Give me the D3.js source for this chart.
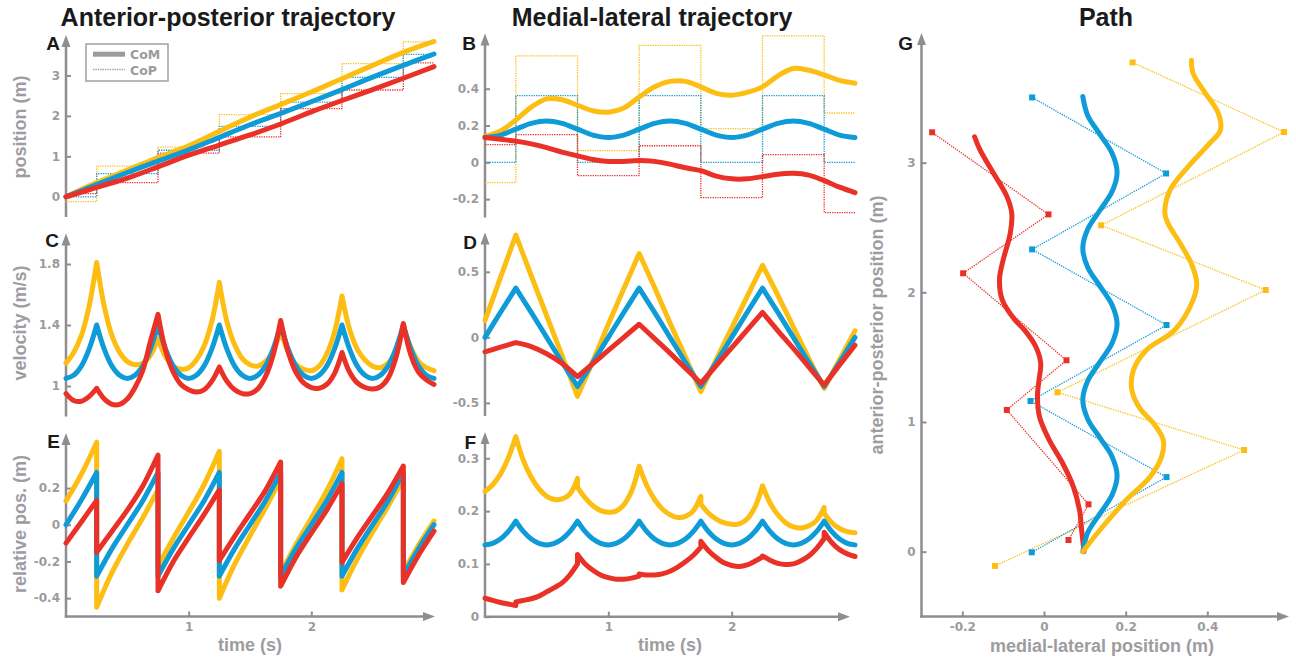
<!DOCTYPE html>
<html>
<head>
<meta charset="utf-8">
<script src="https://cdn.jsdelivr.net/npm/d3@7"></script>
<style>
  body { margin: 0; background: #fff; }
  svg text { font-family: 'Liberation Sans', Arial, sans-serif; }
  .axis .tick line { stroke: #8e8e90; stroke-width: 2; }
  .axis .tick text { font-family: 'DejaVu Sans', sans-serif; font-weight: bold; font-size: 12px; fill: #9b9b9d; }
  .title { font-weight: bold; font-size: 25px; fill: #1a1a1a; }
  .letter { font-weight: bold; font-size: 19px; fill: #1a1a1a; }
  .atitle { font-weight: bold; font-size: 18px; fill: #9d9d9f; }
  .legend text { font-family: 'DejaVu Sans', sans-serif; font-weight: bold; font-size: 12.5px; fill: #9b9b9d; }
</style>
</head>
<body>
<svg id="chart" width="1296" height="657"></svg>
<script>
// time grids and step events
var t4 = d3.range(0, 3.001, 0.25);
var t8 = d3.range(0, 3.001, 0.125);
var t16 = d3.range(0, 3.001, 0.0625);
var steps = [0.25, 0.75, 1.25, 1.75, 2.25, 2.75];
var footTimes = [0, 0.25, 0.75, 1.25, 1.75, 2.25, 2.75, 3];

var yellow = '#fdbe14', blue = '#0e9bd8', red = '#ea3128';
var gray = '#8e8e90';

// A: anterior-posterior position (t4)
var apYellow = [0, 0.35, 0.66, 0.97, 1.26, 1.62, 1.97, 2.28, 2.59, 2.92, 3.25, 3.57, 3.84];
var apBlue = [0, 0.30, 0.60, 0.88, 1.16, 1.47, 1.78, 2.06, 2.35, 2.65, 2.96, 3.25, 3.53];
var apRed = [0, 0.23, 0.46, 0.74, 1.03, 1.28, 1.53, 1.80, 2.10, 2.38, 2.65, 2.93, 3.22];
var apCopYellow = [-0.12, 0.76, 1.23, 2.03, 2.55, 3.29, 3.83];
var apCopBlue = [0.0, 0.57, 1.15, 1.74, 2.34, 2.95, 3.52];
var apCopRed = [0.08, 0.35, 1.08, 1.48, 2.18, 2.64, 3.31];

// B: medial-lateral position (t8)
var mlYellow = [0.14, 0.17, 0.23, 0.30, 0.345, 0.34, 0.31, 0.28, 0.272, 0.295, 0.355, 0.41, 0.44,
  0.44, 0.41, 0.375, 0.365, 0.38, 0.41, 0.47, 0.51, 0.50, 0.475, 0.445, 0.43];
var mlBlue = [0.135, 0.148, 0.18, 0.212, 0.225, 0.212, 0.18, 0.148, 0.135, 0.148, 0.18, 0.212, 0.225,
  0.212, 0.18, 0.148, 0.135, 0.148, 0.18, 0.212, 0.225, 0.212, 0.18, 0.148, 0.135];
var mlRed = [0.135, 0.125, 0.115, 0.10, 0.08, 0.055, 0.035, 0.015, 0.005, 0.005, 0.01, 0.005, -0.01,
  -0.03, -0.045, -0.075, -0.09, -0.09, -0.078, -0.065, -0.06, -0.07, -0.10, -0.135, -0.165];
var mlCopYellow = [-0.11, 0.578, 0.063, 0.636, 0.183, 0.687, 0.268];
var mlCopBlue = [0, 0.362, 0, 0.362, 0, 0.362, 0];
var mlCopRed = [0.096, 0.15, -0.072, 0.09, -0.192, 0.042, -0.274];

// C: anterior-posterior velocity (t16)
var velYellow = [1.15, 1.22, 1.33, 1.52, 1.81,
  1.52, 1.33, 1.22, 1.16, 1.14, 1.15, 1.20, 1.31,
  1.19, 1.13, 1.11, 1.12, 1.17, 1.26, 1.42, 1.68,
  1.42, 1.27, 1.18, 1.14, 1.13, 1.16, 1.23, 1.36,
  1.22, 1.14, 1.11, 1.10, 1.13, 1.21, 1.35, 1.59,
  1.37, 1.24, 1.17, 1.13, 1.12, 1.15, 1.23, 1.39,
  1.25, 1.16, 1.12, 1.10];
var velBlue = [1.05, 1.07, 1.13, 1.24, 1.40,
  1.24, 1.13, 1.07, 1.05, 1.07, 1.13, 1.24, 1.40,
  1.24, 1.13, 1.07, 1.05, 1.07, 1.13, 1.24, 1.40,
  1.24, 1.13, 1.07, 1.05, 1.07, 1.13, 1.24, 1.40,
  1.24, 1.13, 1.07, 1.05, 1.07, 1.13, 1.24, 1.40,
  1.24, 1.13, 1.07, 1.05, 1.07, 1.13, 1.24, 1.40,
  1.24, 1.13, 1.07, 1.05];
var velRed = [0.95, 0.905, 0.90, 0.93, 0.985,
  0.915, 0.88, 0.88, 0.915, 0.99, 1.10, 1.29, 1.47,
  1.23, 1.09, 1.01, 0.975, 0.96, 0.975, 1.03, 1.125,
  1.03, 0.975, 0.95, 0.95, 0.98, 1.06, 1.20, 1.43,
  1.22, 1.09, 1.02, 0.99, 0.985, 1.01, 1.08, 1.22,
  1.09, 1.02, 0.99, 0.98, 0.995, 1.05, 1.18, 1.41,
  1.20, 1.09, 1.04, 1.01];

// D: medial-lateral velocity (t8)
var vmlYellow = [0.13, 0.455, 0.78, 0.47, 0.165, -0.14, -0.45, -0.18, 0.10, 0.37, 0.64, 0.38, 0.11,
  -0.15, -0.415, -0.17, 0.07, 0.31, 0.55, 0.32, 0.08, -0.16, -0.39, -0.17, 0.05];
var vmlBlue = [0, 0.19, 0.375, 0.19, 0, -0.19, -0.375, -0.19, 0, 0.19, 0.375, 0.19, 0,
  -0.19, -0.375, -0.19, 0, 0.19, 0.375, 0.19, 0, -0.19, -0.375, -0.19, 0];
var vmlRed = [-0.11, -0.075, -0.04, -0.07, -0.125, -0.20, -0.30, -0.20, -0.10, 0.0, 0.10, -0.01, -0.12,
  -0.235, -0.35, -0.215, -0.08, 0.055, 0.19, 0.05, -0.085, -0.225, -0.364, -0.21, -0.06];

// E: relative AP position (t8), values after each step + values just before
var relYellow = [0.13, 0.275, -0.45, -0.26, -0.106, 0.037, -0.225, -0.073, 0.069, 0.218, -0.40, -0.215, -0.06,
  0.09, -0.265, -0.107, 0.037, 0.184, -0.355, -0.186, -0.04, 0.10, -0.26, -0.11, 0.02];
var relYellowPre = [0.45, 0.19, 0.40, 0.25, 0.36, 0.25];
var relBlue = [0.0, 0.135, -0.28, -0.13, 0.0, 0.13, -0.28, -0.13, 0.0, 0.13, -0.28, -0.13, 0.0,
  0.13, -0.28, -0.13, 0.0, 0.13, -0.28, -0.13, 0.0, 0.13, -0.28, -0.13, 0.0];
var relBluePre = [0.285, 0.285, 0.285, 0.285, 0.285, 0.285];
var relRed = [-0.10, 0.015, -0.15, -0.035, 0.08, 0.21, -0.36, -0.20, -0.07, 0.055, -0.195, -0.063, 0.06,
  0.186, -0.335, -0.177, -0.046, 0.08, -0.205, -0.07, 0.052, 0.175, -0.315, -0.165, -0.035];
var relRedPre = [0.133, 0.38, 0.19, 0.342, 0.224, 0.32];

// F: relative ML position (t16)
var rmlYellow = [0.237, 0.25, 0.27, 0.30, 0.341,
  0.295, 0.264, 0.242, 0.228, 0.222, 0.223, 0.232, 0.245,
  0.225, 0.21, 0.201, 0.198, 0.20, 0.212, 0.237, 0.285,
  0.248, 0.222, 0.204, 0.193, 0.188, 0.19, 0.20, 0.213,
  0.196, 0.185, 0.178, 0.175, 0.176, 0.185, 0.207, 0.248,
  0.215, 0.193, 0.178, 0.17, 0.168, 0.172, 0.182, 0.196,
  0.178, 0.167, 0.161, 0.159];
var rmlYellowPre = [0.341, 0.262, 0.285, 0.228, 0.248, 0.207];
var rmlBlue = [0.136, 0.139, 0.147, 0.161, 0.181,
  0.161, 0.147, 0.139, 0.136, 0.139, 0.147, 0.161, 0.181,
  0.161, 0.147, 0.139, 0.136, 0.139, 0.147, 0.161, 0.181,
  0.161, 0.147, 0.139, 0.136, 0.139, 0.147, 0.161, 0.181,
  0.161, 0.147, 0.139, 0.136, 0.139, 0.147, 0.161, 0.181,
  0.161, 0.147, 0.139, 0.136, 0.139, 0.147, 0.161, 0.181,
  0.161, 0.147, 0.139, 0.136];
var rmlRed = [0.035, 0.031, 0.027, 0.024, 0.028,
  0.031, 0.034, 0.039, 0.047, 0.055, 0.064, 0.079, 0.118,
  0.10, 0.088, 0.079, 0.074, 0.071, 0.071, 0.073, 0.081,
  0.079, 0.079, 0.081, 0.086, 0.094, 0.104, 0.116, 0.143,
  0.125, 0.112, 0.102, 0.097, 0.095, 0.098, 0.105, 0.115,
  0.107, 0.101, 0.099, 0.10, 0.106, 0.115, 0.129, 0.16,
  0.14, 0.127, 0.119, 0.114];
var rmlRedPre = [0.021, 0.10, 0.077, 0.132, 0.113, 0.148];

// G: path (medial-lateral vs anterior-posterior)
var pathYellowMl = [0.095, 0.137, 0.202, 0.26, 0.288, 0.292, 0.268, 0.235, 0.215, 0.219, 0.251, 0.32, 0.365,
  0.374, 0.361, 0.333, 0.304, 0.296, 0.309, 0.353, 0.406, 0.432, 0.427, 0.39, 0.365, 0.361];
var pathYellowAp = [0, 0.167, 0.40, 0.578, 0.733, 0.861, 0.99, 1.105, 1.247, 1.40, 1.555, 1.709, 1.94,
  2.07, 2.22, 2.38, 2.53, 2.61, 2.79, 2.97, 3.15, 3.25, 3.38, 3.56, 3.69, 3.79];
var pathBlueMl = [0.095, 0.107, 0.137, 0.167, 0.179, 0.167, 0.137, 0.107, 0.095, 0.107, 0.137, 0.167, 0.179,
  0.167, 0.137, 0.107, 0.095, 0.107, 0.137, 0.167, 0.179, 0.167, 0.137, 0.107, 0.095];
var pathBlueAp = [0, 0.146, 0.293, 0.439, 0.585, 0.731, 0.878, 1.024, 1.17, 1.316, 1.463, 1.609, 1.755,
  1.901, 2.048, 2.194, 2.34, 2.486, 2.633, 2.779, 2.925, 3.071, 3.218, 3.364, 3.51];
var pathRedMl = [0.098, 0.092, 0.087, 0.072, 0.046, 0.013, -0.011, -0.016, -0.012, -0.008, -0.02,
  -0.048, -0.072, -0.102, -0.109, -0.10, -0.083, -0.079, -0.091, -0.124, -0.157, -0.17];
var pathRedAp = [0, 0.17, 0.32, 0.5, 0.68, 0.86, 1.04, 1.2, 1.33, 1.45, 1.58,
  1.71, 1.79, 1.94, 2.1, 2.25, 2.45, 2.61, 2.74, 2.92, 3.1, 3.2];
var footYellowMl = [-0.12, 0.49, 0.033, 0.543, 0.14, 0.588, 0.217];
var footYellowAp = [-0.11, 0.784, 1.229, 2.018, 2.517, 3.236, 3.773];
var footBlueMl = [-0.03, 0.30, -0.033, 0.30, -0.029, 0.299, -0.029];
var footBlueAp = [-0.005, 0.575, 1.162, 1.748, 2.331, 2.917, 3.503];
var footRedMl = [0.06, 0.109, -0.091, 0.055, -0.198, 0.011, -0.274];
var footRedAp = [0.09, 0.365, 1.093, 1.476, 2.147, 2.601, 3.234];

var svg = d3.select('#chart');

function fmt(d) {
  return String(d);
}

function arrowLine(g, x1, y1, x2, y2) {
  var ang = Math.atan2(y2 - y1, x2 - x1);
  var c = Math.cos(ang), s = Math.sin(ang);
  g.append('line')
    .attr('x1', x1).attr('y1', y1)
    .attr('x2', x2 - 8 * c).attr('y2', y2 - 8 * s)
    .attr('stroke', gray).attr('stroke-width', 2.5);
  var bx = x2 - 12 * c, by = y2 - 12 * s;
  g.append('path')
    .attr('d', `M${x2},${y2}L${bx - 4.5 * s},${by + 4.5 * c}L${bx + 4.5 * s},${by - 4.5 * c}Z`)
    .attr('fill', gray);
}

function panel(opt) {
  var g = svg.append('g');
  var x0 = opt.x.range()[0];
  var yb = opt.y.range()[0], yt = opt.y.range()[1];

  arrowLine(g, x0, yb + (opt.xTicks ? 1.2 : 0), x0, yt);
  g.append('g')
    .attr('class', 'axis')
    .attr('transform', `translate(${x0},0)`)
    .call(d3.axisLeft(opt.y).tickValues(opt.yTicks).tickFormat(fmt).tickSizeInner(-5).tickSizeOuter(0).tickPadding(6))
    .call((a) => a.select('.domain').remove());

  if (opt.xTicks) {
    arrowLine(g, x0 - 1.2, yb, opt.xTip, yb);
    g.append('g')
      .attr('class', 'axis')
      .attr('transform', `translate(0,${yb})`)
      .call(d3.axisBottom(opt.x).tickValues(opt.xTicks).tickFormat(fmt).tickSizeInner(-5).tickSizeOuter(0).tickPadding(6))
      .call((a) => a.select('.domain').remove());
  }

  g.append('text')
    .attr('class', 'letter')
    .attr('x', opt.lx)
    .attr('y', opt.ly)
    .attr('text-anchor', 'end')
    .text(opt.letter);
  return g;
}

function yTitle(text, x, y) {
  svg.append('text')
    .attr('class', 'atitle')
    .attr('transform', `translate(${x},${y}) rotate(-90)`)
    .attr('text-anchor', 'middle')
    .text(text);
}

function xTitle(text, x, y) {
  svg.append('text').attr('class', 'atitle').attr('x', x).attr('y', y).attr('text-anchor', 'middle').text(text);
}

function thick(g, d, color) {
  g.append('path')
    .attr('d', d)
    .attr('fill', 'none')
    .attr('stroke', color)
    .attr('stroke-width', 5)
    .attr('stroke-linejoin', 'round')
    .attr('stroke-linecap', 'round');
}

function dotted(g, d, color) {
  g.append('path')
    .attr('d', d)
    .attr('fill', 'none')
    .attr('stroke', color)
    .attr('stroke-width', 1.3)
    .attr('stroke-dasharray', '1.3,1.1');
}

function smoothPath(x, y, times, vals) {
  var line = d3.line().x((d) => x(d[0])).y((d) => y(d[1])).curve(d3.curveCatmullRom.alpha(0.5));
  return line(d3.zip(times, vals));
}

// curves with a corner (and maybe a jump) at every step
function segmentedPath(x, y, times, vals, pre) {
  var line = d3.line().x((d) => x(d[0])).y((d) => y(d[1])).curve(d3.curveCatmullRom.alpha(0.5));
  var bounds = [0].concat(steps, [3]);
  var out = '';
  for (var k = 0; k < bounds.length - 1; k++) {
    var seg = [];
    times.forEach((t, i) => {
      if (t < bounds[k] - 1e-9 || t > bounds[k + 1] + 1e-9) return;
      var v = vals[i];
      if (pre && k < steps.length && Math.abs(t - bounds[k + 1]) < 1e-9) v = pre[k];
      seg.push([t, v]);
    });
    var part = line(seg);
    out += k === 0 ? part : 'L' + part.slice(1);
  }
  return out;
}

function stairsPath(x, y, vals) {
  var pts = footTimes.map((t, i) => [t, vals[Math.min(i, vals.length - 1)]]);
  return d3.line().x((d) => x(d[0])).y((d) => y(d[1])).curve(d3.curveStepAfter)(pts);
}

var xLeft = d3.scaleLinear().domain([0, 3]).range([66, 434]);
var xMid = d3.scaleLinear().domain([0, 3]).range([485, 855]);

// titles
svg.append('text').attr('class', 'title').attr('x', 228).attr('y', 26).attr('text-anchor', 'middle').text('Anterior-posterior trajectory');
svg.append('text').attr('class', 'title').attr('x', 652).attr('y', 26).attr('text-anchor', 'middle').text('Medial-lateral trajectory');
svg.append('text').attr('class', 'title').attr('x', 1106).attr('y', 26).attr('text-anchor', 'middle').text('Path');

// A
var yA = d3.scaleLinear().domain([-0.5, 4]).range([217, 35]);
var gA = panel({ x: xLeft, y: yA, yTicks: [0, 1, 2, 3], letter: 'A', lx: 60, ly: 50 });
dotted(gA, stairsPath(xLeft, yA, apCopYellow), yellow);
dotted(gA, stairsPath(xLeft, yA, apCopBlue), blue);
dotted(gA, stairsPath(xLeft, yA, apCopRed), red);
thick(gA, smoothPath(xLeft, yA, t4, apYellow), yellow);
thick(gA, smoothPath(xLeft, yA, t4, apBlue), blue);
thick(gA, smoothPath(xLeft, yA, t4, apRed), red);
yTitle('position (m)', 26, 127);

var legend = gA.append('g').attr('class', 'legend');
legend.append('rect').attr('x', 86).attr('y', 44).attr('width', 82).attr('height', 37)
  .attr('fill', '#fff').attr('stroke', '#a0a0a2').attr('stroke-width', 1.5);
legend.append('line').attr('x1', 93).attr('x2', 125).attr('y1', 54.2).attr('y2', 54.2)
  .attr('stroke', '#9b9b9d').attr('stroke-width', 5);
legend.append('line').attr('x1', 93).attr('x2', 125).attr('y1', 69.5).attr('y2', 69.5)
  .attr('stroke', '#9b9b9d').attr('stroke-width', 1.3).attr('stroke-dasharray', '1.3,1.1');
legend.append('text').attr('x', 130).attr('y', 59).text('CoM');
legend.append('text').attr('x', 130).attr('y', 74.5).text('CoP');

// B
var yB = d3.scaleLinear().domain([-0.3, 0.7]).range([217.5, 33.5]);
var gB = panel({ x: xMid, y: yB, yTicks: [-0.2, 0, 0.2, 0.4], letter: 'B', lx: 476, ly: 49.5 });
dotted(gB, stairsPath(xMid, yB, mlCopYellow), yellow);
dotted(gB, stairsPath(xMid, yB, mlCopBlue), blue);
dotted(gB, stairsPath(xMid, yB, mlCopRed), red);
thick(gB, smoothPath(xMid, yB, t8, mlYellow), yellow);
thick(gB, smoothPath(xMid, yB, t8, mlBlue), blue);
thick(gB, smoothPath(xMid, yB, t8, mlRed), red);

// C
var yC = d3.scaleLinear().domain([0.8, 2.0]).range([416.5, 233.5]);
var gC = panel({ x: xLeft, y: yC, yTicks: [1, 1.4, 1.8], letter: 'C', lx: 59, ly: 247 });
thick(gC, segmentedPath(xLeft, yC, t16, velYellow), yellow);
thick(gC, segmentedPath(xLeft, yC, t16, velBlue), blue);
thick(gC, segmentedPath(xLeft, yC, t16, velRed), red);
yTitle('velocity (m/s)', 26, 323);

// D
var yD = d3.scaleLinear().domain([-0.6, 0.8]).range([416, 232.5]);
var gD = panel({ x: xMid, y: yD, yTicks: [-0.5, 0, 0.5], letter: 'D', lx: 477, ly: 248.5 });
thick(gD, segmentedPath(xMid, yD, t8, vmlYellow), yellow);
thick(gD, segmentedPath(xMid, yD, t8, vmlBlue), blue);
thick(gD, segmentedPath(xMid, yD, t8, vmlRed), red);

// E
var yE = d3.scaleLinear().domain([-0.5, 0.5]).range([616.5, 433]);
var gE = panel({ x: xLeft, y: yE, yTicks: [-0.4, -0.2, 0, 0.2], xTicks: [1, 2], xTip: 435, letter: 'E', lx: 60, ly: 448 });
thick(gE, segmentedPath(xLeft, yE, t8, relYellow, relYellowPre), yellow);
thick(gE, segmentedPath(xLeft, yE, t8, relBlue, relBluePre), blue);
thick(gE, segmentedPath(xLeft, yE, t8, relRed, relRedPre), red);
yTitle('relative pos. (m)', 26, 524);
xTitle('time (s)', 250, 651);

// F
var yF = d3.scaleLinear().domain([0, 0.35]).range([616.7, 431.9]);
var gF = panel({ x: xMid, y: yF, yTicks: [0, 0.1, 0.2, 0.3], xTicks: [1, 2], xTip: 850, letter: 'F', lx: 476, ly: 448.5 });
thick(gF, segmentedPath(xMid, yF, t16, rmlYellow, rmlYellowPre), yellow);
thick(gF, segmentedPath(xMid, yF, t16, rmlBlue), blue);
thick(gF, segmentedPath(xMid, yF, t16, rmlRed, rmlRedPre), red);
xTitle('time (s)', 670, 651);

// G
var xG = d3.scaleLinear().domain([-0.3, 0.6]).range([921.5, 1289]);
var yG = d3.scaleLinear().domain([-0.5, 4]).range([616.5, 33]);
var gG = panel({ x: xG, y: yG, yTicks: [0, 1, 2, 3], xTicks: [-0.2, 0, 0.2, 0.4], xTip: 1289, letter: 'G', lx: 913, ly: 49.5 });
var pathLine = d3.line().x((d) => xG(d[0])).y((d) => yG(d[1])).curve(d3.curveCatmullRom.alpha(0.5));
var footLine = d3.line().x((d) => xG(d[0])).y((d) => yG(d[1]));

[[footYellowMl, footYellowAp, yellow], [footBlueMl, footBlueAp, blue], [footRedMl, footRedAp, red]].forEach((f) => {
  var pts = d3.zip(f[0], f[1]);
  dotted(gG, footLine(pts), f[2]);
  gG.selectAll(null)
    .data(pts)
    .enter()
    .append('rect')
    .attr('x', (d) => xG(d[0]) - 3)
    .attr('y', (d) => yG(d[1]) - 3)
    .attr('width', 6)
    .attr('height', 6)
    .attr('fill', f[2]);
});

thick(gG, pathLine(d3.zip(pathRedMl, pathRedAp)), red);
thick(gG, pathLine(d3.zip(pathBlueMl, pathBlueAp)), blue);
thick(gG, pathLine(d3.zip(pathYellowMl, pathYellowAp)), yellow);
yTitle('anterior-posterior position (m)', 883, 325);
xTitle('medial-lateral position (m)', 1102, 652);
</script>
</body>
</html>
